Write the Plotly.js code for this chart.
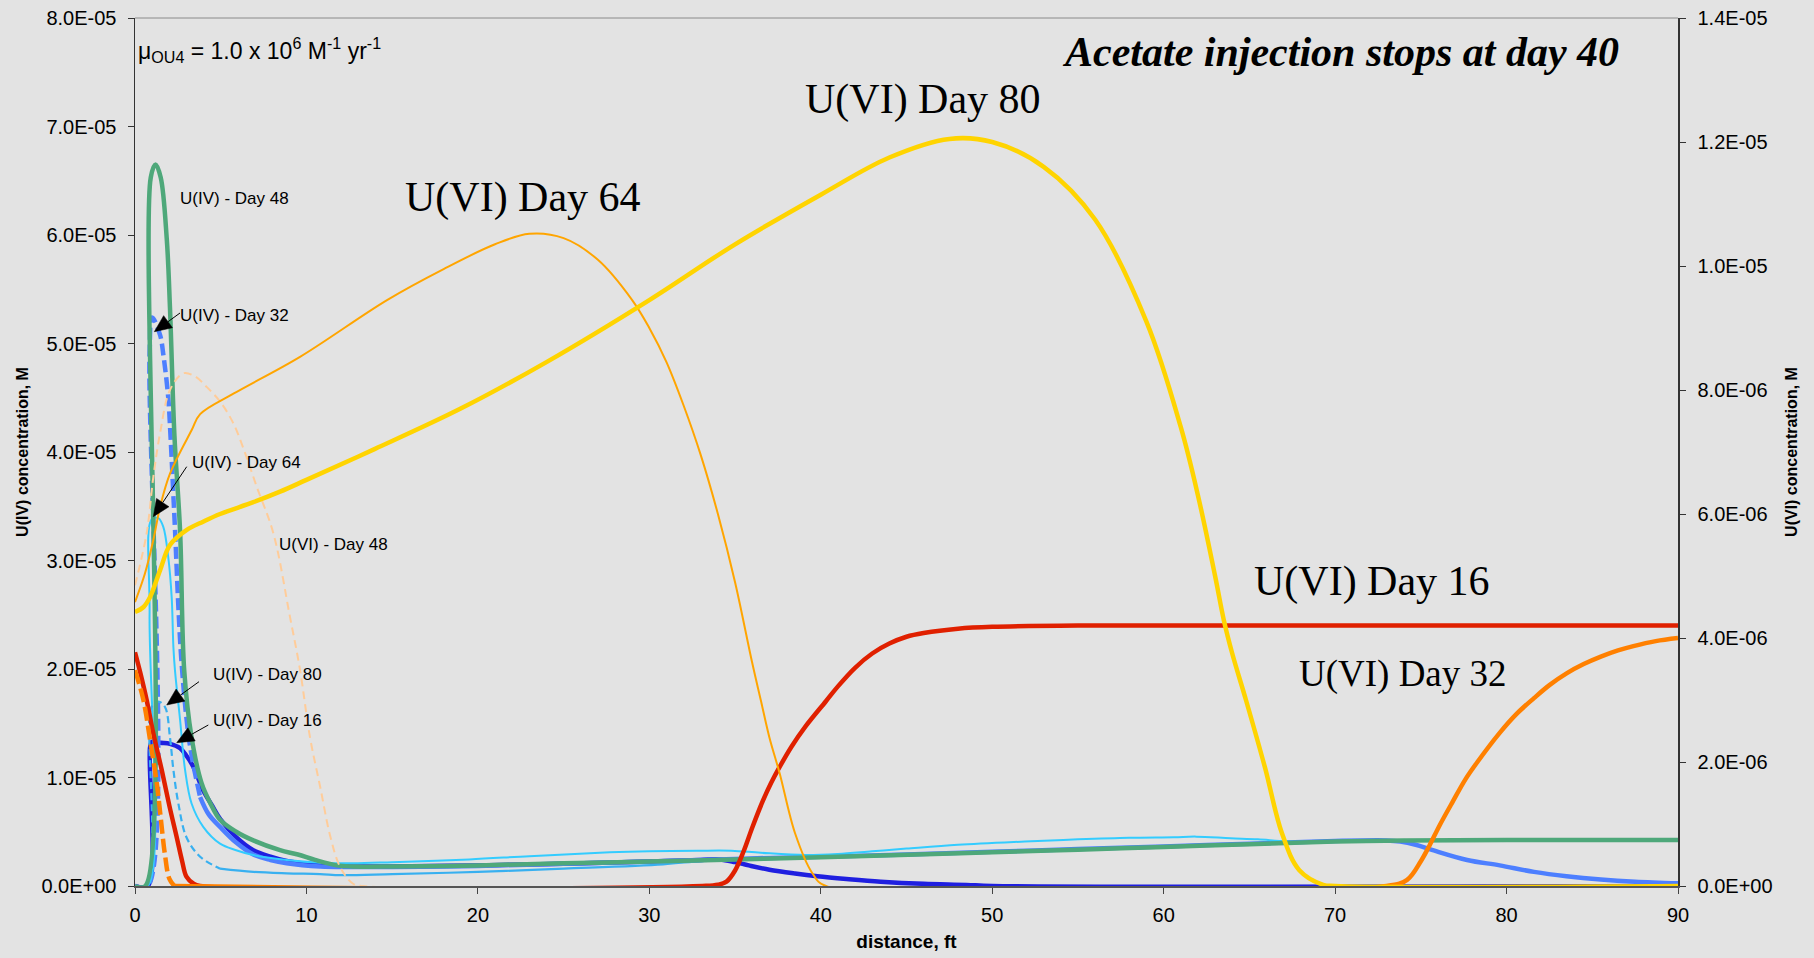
<!DOCTYPE html>
<html><head><meta charset="utf-8">
<script src="https://cdn.plot.ly/plotly-3.0.1.min.js"></script>
<style>html,body{margin:0;padding:0;background:#e3e3e3;} #chart{width:1814px;height:958px;}</style>
</head><body><div id="chart"></div>
<script>
// ---------- U(IV) series (left axis, M) ----------
const U4_D16_X = [0,0.75,0.88,1.0,1.5,2.04,2.63,3.0,3.4,3.98,4.5,4.96,5.9,6.9,7.9,8.85,10.8,12.7,15,20,25,30,33,34.1,35,35.8,37,38.5,39.8,41.5,43.5,46,48.5,50,90];
const U4_D16_Y = [0,0,1.28e-5,1.33e-5,1.32e-5,1.31e-5,1.27e-5,1.2e-5,1.1e-5,0.88e-5,0.74e-5,0.62e-5,0.45e-5,0.33e-5,0.27e-5,0.23e-5,0.19e-5,0.18e-5,0.18e-5,0.19e-5,0.205e-5,0.225e-5,0.24e-5,0.245e-5,0.22e-5,0.19e-5,0.15e-5,0.115e-5,0.09e-5,0.065e-5,0.04e-5,0.02e-5,0.01e-5,0,0];

const U4_D32_X = [0,0.75,0.85,1.0,1.46,1.65,1.94,2.07,2.3,2.72,3.2,3.8,4.3,4.96,5.9,6.9,7.9,8.85,10.8,12.7,15,20,25,30,35,40,45,50,55,60,65,70,73,73.8,74.7,75.7,77.7,79.6,81.6,83.5,85.5,87.5,90];
const U4_D32_Y = [0,0,4.9e-5,5.24e-5,5.08e-5,4.9e-5,4.5e-5,4.15e-5,3.4e-5,2.05e-5,1.3e-5,0.82e-5,0.66e-5,0.545e-5,0.4e-5,0.29e-5,0.24e-5,0.21e-5,0.18e-5,0.175e-5,0.175e-5,0.185e-5,0.205e-5,0.225e-5,0.25e-5,0.27e-5,0.29e-5,0.315e-5,0.34e-5,0.365e-5,0.39e-5,0.415e-5,0.42e-5,0.41e-5,0.38e-5,0.33e-5,0.24e-5,0.19e-5,0.13e-5,0.09e-5,0.06e-5,0.04e-5,0.025e-5];

const U4_D48_X = [0,0.6,0.92,1.2,1.5,1.85,2.04,2.3,2.63,2.87,3.3,3.88,4.4,4.96,5.9,6.9,8.46,9.5,10.5,11.76,12.7,15,20,25,30,35,40,44.6,50,55,60,65,70,74,80,90];
const U4_D48_Y = [0,0,6.53e-5,6.65e-5,6.53e-5,5.97e-5,5.33e-5,4.15e-5,3.27e-5,1.99e-5,1.37e-5,0.95e-5,0.76e-5,0.61e-5,0.5e-5,0.42e-5,0.33e-5,0.29e-5,0.24e-5,0.19e-5,0.18e-5,0.18e-5,0.19e-5,0.21e-5,0.225e-5,0.245e-5,0.265e-5,0.285e-5,0.31e-5,0.335e-5,0.36e-5,0.385e-5,0.41e-5,0.42e-5,0.425e-5,0.425e-5];

const U4_D64_X = [0,0.75,0.85,0.97,1.36,1.65,1.94,2.14,2.24,2.33,2.63,2.92,3.3,3.98,4.96,5.9,6.9,8.85,10.8,12.7,15,19.5,23,27.7,30,32.8,34.8,36.5,39.1,41,43,45,48,51.9,55,58,60.6,61.9,63.9,65.5,67.2,70,73,80,90];
const U4_D64_Y = [0,0,2.5e-5,3.38e-5,3.39e-5,3.31e-5,3.03e-5,2.66e-5,2.2e-5,1.99e-5,1.53e-5,1.07e-5,0.76e-5,0.545e-5,0.39e-5,0.33e-5,0.285e-5,0.24e-5,0.215e-5,0.21e-5,0.22e-5,0.245e-5,0.275e-5,0.31e-5,0.32e-5,0.325e-5,0.325e-5,0.306e-5,0.285e-5,0.295e-5,0.32e-5,0.345e-5,0.38e-5,0.41e-5,0.43e-5,0.445e-5,0.45e-5,0.455e-5,0.44e-5,0.43e-5,0.41e-5,0.41e-5,0.415e-5,0.42e-5,0.42e-5];

const U4_D80_X = [0,0.7,0.85,1.0,1.36,1.75,2.04,2.24,2.53,3.0,3.8,4.96,6.9,8.85,10.8,12,15,20,25,30.8,33,35,40,50,60,70,80,90];
const U4_D80_Y = [0,0,1.55e-5,1.66e-5,1.7e-5,1.65e-5,1.37e-5,1.07e-5,0.76e-5,0.45e-5,0.27e-5,0.16e-5,0.13e-5,0.117e-5,0.11e-5,0.1e-5,0.11e-5,0.13e-5,0.16e-5,0.2e-5,0.23e-5,0.245e-5,0.265e-5,0.31e-5,0.36e-5,0.41e-5,0.425e-5,0.425e-5];

// ---------- U(VI) series (right axis, M) ----------
const U6_D16_X = [0,0.3,0.68,1.07,1.56,2.0,2.43,2.75,3.0,3.4,3.8,33.1,34,34.5,35,35.5,36,36.6,37.1,37.6,38.3,39.1,40.3,41,42,43,44,45,46,48,50,55,90];
const U6_D16_Y = [3.77e-6,3.45e-6,3.0e-6,2.46e-6,1.87e-6,1.3e-6,0.79e-6,0.4e-6,0.15e-6,0.04e-6,0,0,0.02e-6,0.07e-6,0.25e-6,0.56e-6,0.94e-6,1.36e-6,1.66e-6,1.92e-6,2.25e-6,2.57e-6,2.98e-6,3.22e-6,3.52e-6,3.75e-6,3.91e-6,4.02e-6,4.08e-6,4.15e-6,4.18e-6,4.2e-6,4.2e-6];

const U6_D32_X = [0,0.49,0.88,1.27,1.5,1.75,2.0,2.3,73,74.2,75.0,75.5,76.1,76.9,77.6,78.3,79.6,80.6,81.6,82.5,83.5,84.5,85.5,86.5,87.4,88.7,90];
const U6_D32_Y = [3.48e-6,3.0e-6,2.35e-6,1.66e-6,1.1e-6,0.5e-6,0.12e-6,0,0,0.1e-6,0.4e-6,0.65e-6,0.98e-6,1.38e-6,1.72e-6,2.0e-6,2.47e-6,2.78e-6,3.03e-6,3.24e-6,3.43e-6,3.58e-6,3.7e-6,3.8e-6,3.87e-6,3.95e-6,4.0e-6];

const U6_D48_X = [0,0.68,1.07,1.46,2.04,2.82,3.5,4.18,5.0,5.74,6.4,7.1,8.07,9.04,9.63,10.2,10.8,11.4,11.96,12.7,13.3,90];
const U6_D48_Y = [4.85e-6,5.69e-6,6.6e-6,7.3e-6,8.0e-6,8.27e-6,8.22e-6,8.05e-6,7.8e-6,7.46e-6,7.0e-6,6.44e-6,5.69e-6,4.34e-6,3.48e-6,2.41e-6,1.6e-6,0.79e-6,0.31e-6,0.04e-6,0,0];

const U6_D64_X = [0,0.58,1.07,1.46,2.04,3.3,3.8,5.74,9.6,14.7,18,21,23,25,27,29,30,31,32,33,34,35,36,36.5,37,37.6,38.5,39.5,40.3,90];
const U6_D64_Y = [4.58e-6,5.04e-6,5.58e-6,6.11e-6,6.65e-6,7.35e-6,7.61e-6,7.94e-6,8.53e-6,9.45e-6,9.95e-6,10.35e-6,10.52e-6,10.45e-6,10.1e-6,9.45e-6,9.0e-6,8.45e-6,7.75e-6,6.95e-6,6.0e-6,4.9e-6,3.6e-6,3.0e-6,2.4e-6,1.82e-6,0.85e-6,0.21e-6,0,0];

const U6_D80_X = [0,0.5,0.88,1.46,2.04,3.0,4.0,4.96,6.9,8.46,10,14,19,24,30,35,40,44,47.5,50,53,56,59,61,62,63,63.5,64,64.8,65.9,66.9,67.9,69.3,70,90];
const U6_D80_Y = [4.42e-6,4.5e-6,4.66e-6,5.09e-6,5.5e-6,5.74e-6,5.88e-6,6.0e-6,6.19e-6,6.36e-6,6.55e-6,7.05e-6,7.7e-6,8.45e-6,9.45e-6,10.35e-6,11.15e-6,11.75e-6,12.05e-6,12.0e-6,11.6e-6,10.75e-6,9.1e-6,7.4e-6,6.3e-6,5.0e-6,4.3e-6,3.75e-6,3.0e-6,1.92e-6,0.85e-6,0.26e-6,0.02e-6,0,0];

// ---------- tick labels ----------
const LEFT_TICK_VALS = [0,1e-5,2e-5,3e-5,4e-5,5e-5,6e-5,7e-5,8e-5];
const LEFT_TICK_TEXT = ['0.0E+00','1.0E-05','2.0E-05','3.0E-05','4.0E-05','5.0E-05','6.0E-05','7.0E-05','8.0E-05'];
const RIGHT_TICK_VALS = [0,2e-6,4e-6,6e-6,8e-6,1e-5,1.2e-5,1.4e-5];
const RIGHT_TICK_TEXT = ['0.0E+00','2.0E-06','4.0E-06','6.0E-06','8.0E-06','1.0E-05','1.2E-05','1.4E-05'];
const X_TICK_VALS = [0,10,20,30,40,50,60,70,80,90];

function line(x, y, color, width, dash, axis) {
  return {type:'scatter', mode:'lines', x:x, y:y, yaxis:axis, hoverinfo:'skip',
          line:{color:color, width:width, dash:dash||'solid', shape:'spline', smoothing:1}, showlegend:false};
}
const D32_SPLIT = U4_D32_X.indexOf(3.8);
const D80_SPLIT = U4_D80_X.indexOf(4.96);
const O32_SPLIT = U6_D32_X.indexOf(2.3);

const traces = [
  line(U4_D16_X, U4_D16_Y, '#1f1fe0', 4.5, 'solid', 'y'),
  line(U4_D32_X.slice(0, D32_SPLIT+1), U4_D32_Y.slice(0, D32_SPLIT+1), '#4d7fff', 4.5, '12px,5px', 'y'),
  line(U4_D32_X.slice(D32_SPLIT), U4_D32_Y.slice(D32_SPLIT), '#4d7fff', 4.5, 'solid', 'y'),
  line(U4_D64_X, U4_D64_Y, '#33ccff', 2, 'solid', 'y'),
  line(U4_D80_X.slice(0, D80_SPLIT+1), U4_D80_Y.slice(0, D80_SPLIT+1), '#38b0f0', 2.2, '7px,4px', 'y'),
  line(U4_D80_X.slice(D80_SPLIT), U4_D80_Y.slice(D80_SPLIT), '#38b0f0', 2.2, 'solid', 'y'),
  line(U4_D48_X, U4_D48_Y, '#4ea87a', 4.5, 'solid', 'y'),
  line(U6_D16_X, U6_D16_Y, '#e02000', 4.5, 'solid', 'y2'),
  line(U6_D32_X.slice(0, O32_SPLIT+1), U6_D32_Y.slice(0, O32_SPLIT+1), '#ff8000', 4.5, '14px,5px', 'y2'),
  line(U6_D32_X.slice(O32_SPLIT), U6_D32_Y.slice(O32_SPLIT), '#ff8000', 4.5, 'solid', 'y2'),
  line(U6_D48_X, U6_D48_Y, '#ffcc99', 2, '8px,5px', 'y2'),
  line(U6_D64_X, U6_D64_Y, '#ffa500', 2, 'solid', 'y2'),
  line(U6_D80_X, U6_D80_Y, '#ffd400', 4.5, 'solid', 'y2')
];

// pixel -> paper helpers (plot area: x 135..1678, y 18..886)
const px = x => (x - 135) / 1543;
const py = y => (886 - y) / 868;

const SANS = 'Liberation Sans, Arial, sans-serif';
const SERIF = 'Liberation Serif, Times New Roman, serif';
function txt(t, x, y, size, xanchor, family) {
  return {text:t, xref:'paper', yref:'paper', x:px(x), y:py(y), xanchor:xanchor, yanchor:'middle',
          showarrow:false, font:{family:family||SANS, size:size, color:'#000'}};
}
// pointer arrows drawn as shapes: a line plus a filled triangular head
function arrowShapes(tipX, tipY, tailX, tailY) {
  const L = 17, W = 7.5;
  const dx = tipX - tailX, dy = tipY - tailY, len = Math.hypot(dx, dy);
  const ux = dx / len, uy = dy / len, nx = -uy, ny = ux;
  const bx = tipX - ux * L, by = tipY - uy * L;
  const p = (x, y) => px(x) + ',' + py(y);
  return [
    {type:'line', xref:'paper', yref:'paper', x0:px(tailX), y0:py(tailY), x1:px(bx), y1:py(by), line:{color:'#000', width:1}},
    {type:'path', xref:'paper', yref:'paper', path:'M' + p(tipX, tipY) + ' L' + p(bx + nx*W, by + ny*W) + ' L' + p(bx - nx*W, by - ny*W) + ' Z',
     fillcolor:'#000', line:{color:'#000', width:0.5}}
  ];
}

const annotations = [
  txt('μ<sub>OU4</sub> = 1.0 x 10<sup>6</sup> M<sup>-1</sup> yr<sup>-1</sup>', 136, 50, 23, 'left'),
  txt('<b><i>Acetate injection stops at day 40</i></b>', 1621, 52, 42, 'right', SERIF),
  txt('U(VI) Day 80', 923, 100, 42, 'center', SERIF),
  txt('U(VI) Day 64', 523, 197, 42, 'center', SERIF),
  txt('U(VI) Day 16', 1372, 581, 42, 'center', SERIF),
  txt('U(VI) Day 32', 1403, 674, 37, 'center', SERIF),
  txt('U(IV) - Day 48', 178, 199, 17, 'left'),
  txt('U(IV) - Day 32', 178, 315, 17, 'left'),
  txt('U(IV) - Day 64', 190, 462, 17, 'left'),
  txt('U(VI) - Day 48', 277, 544, 17, 'left'),
  txt('U(IV) - Day 80', 211, 674, 17, 'left'),
  txt('U(IV) - Day 16', 211, 720, 17, 'left')
];

const shapes = [{type:'line', xref:'paper', yref:'paper', x0:0, x1:1, y0:1, y1:1, line:{color:'#8a8a8a', width:1}}]
  .concat(arrowShapes(154.3, 331.7, 180, 313))
  .concat(arrowShapes(153.3, 516.7, 186.7, 466.7))
  .concat(arrowShapes(166.7, 705, 199, 681.7))
  .concat(arrowShapes(176.7, 742.7, 208.3, 725));

const tickFont = {family:SANS, size:20, color:'#000'};
const layout = {
  width:1814, height:958,
  margin:{l:135, r:136, t:18, b:72, pad:0},
  paper_bgcolor:'#e3e3e3', plot_bgcolor:'#e3e3e3',
  font:{family:SANS, color:'#000'},
  showlegend:false,
  xaxis:{range:[0,90], tickvals:X_TICK_VALS, ticks:'outside', ticklen:6, tickcolor:'#444', tickwidth:1,
         showline:true, linecolor:'#555', linewidth:1.5, showgrid:false, zeroline:false,
         tickfont:tickFont, ticklabelstandoff:4,
         title:{text:'<b>distance, ft</b>', font:{family:SANS, size:19, color:'#000'}, standoff:10}},
  yaxis:{range:[0,8e-5], tickvals:LEFT_TICK_VALS, ticktext:LEFT_TICK_TEXT, ticks:'outside', ticklen:6,
         tickcolor:'#333', tickwidth:1, showline:true, linecolor:'#333', linewidth:1.5, showgrid:false,
         zeroline:false, tickfont:tickFont, ticklabelstandoff:7,
         title:{text:'<b>U(IV) concentration, M</b>', font:{family:SANS, size:16, color:'#000'}, standoff:9}},
  yaxis2:{range:[0,1.4e-5], overlaying:'y', side:'right', tickvals:RIGHT_TICK_VALS, ticktext:RIGHT_TICK_TEXT,
          ticks:'outside', ticklen:6, tickcolor:'#333', tickwidth:1, showline:true, linecolor:'#333',
          linewidth:1.5, showgrid:false, zeroline:false, tickfont:tickFont, ticklabelstandoff:8,
          title:{text:'<b>U(VI) concentration, M</b>', font:{family:SANS, size:16, color:'#000'}, standoff:14}},
  shapes:shapes,
  annotations:annotations
};
Plotly.newPlot('chart', traces, layout, {displayModeBar:false, staticPlot:true});
</script></body></html>
